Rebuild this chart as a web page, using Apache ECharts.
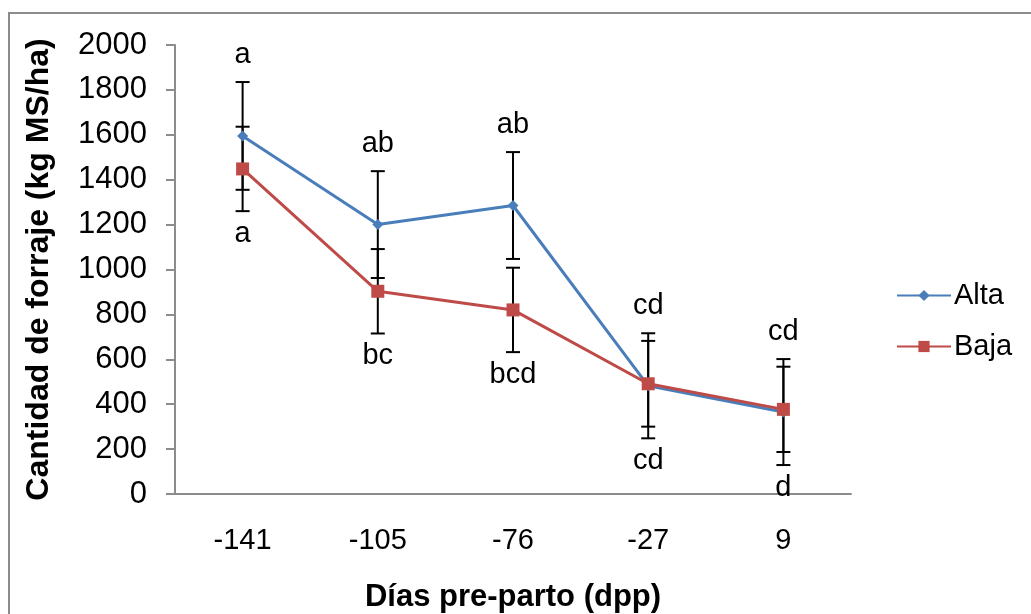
<!DOCTYPE html>
<html>
<head>
<meta charset="utf-8">
<script src="https://cdn.jsdelivr.net/npm/echarts@6/dist/echarts.min.js"></script>
<style>
  html, body { margin: 0; padding: 0; background: #fff; }
  #frame { position: absolute; left: 8px; top: 12px; width: 1030px; height: 610px;
           border-left: 2px solid #8c8c8c; border-top: 2px solid #8c8c8c; }
  #chart { position: absolute; left: 0; top: 0; width: 1031px; height: 614px; }
</style>
</head>
<body>
<div id="frame"></div>
<div id="chart"></div>
<script>
// Days relative to calving
const categories = ['-141', '-105', '-76', '-27', '9'];

// Forage mass (kg DM/ha) per stocking level
const alta = [1595, 1200, 1285, 482, 365];
const baja = [1448, 903, 820, 491, 377];

// Error bar half-widths
const altaErr = [240, 238, 238, 234, 236];
const bajaErr = [188, 188, 188, 191, 190];

// Significance letters: Alta above, Baja below
const lettersAlta = ['a', 'ab', 'ab', 'cd', 'cd'];
const lettersBaja = ['a', 'bc', 'bcd', 'cd', 'd'];

const yTicks = { min: 0, max: 2000, interval: 200 };

const FONT = '"Liberation Sans", Arial, sans-serif';
const FS = 29;
const BLUE = '#4a7ebb';
const RED = '#be4b48';

// [category index, low, high]
function errData(vals, errs) {
  return vals.map((v, i) => [i, v - errs[i], v + errs[i]]);
}

// [category index, highest bar end, lowest bar end, letter above, letter below]
const letterData = categories.map((c, i) => [
  i,
  Math.max(alta[i] + altaErr[i], baja[i] + bajaErr[i]),
  Math.min(alta[i] - altaErr[i], baja[i] - bajaErr[i]),
  lettersAlta[i],
  lettersBaja[i]
]);

function renderErr(params, api) {
  const x = api.value(0);
  const lo = api.coord([x, api.value(1)]);
  const hi = api.coord([x, api.value(2)]);
  const cap = 7;
  const style = { stroke: '#000', lineWidth: 2 };
  return {
    type: 'group',
    children: [
      { type: 'line', shape: { x1: hi[0], y1: hi[1], x2: lo[0], y2: lo[1] }, style },
      { type: 'line', shape: { x1: hi[0] - cap, y1: hi[1], x2: hi[0] + cap, y2: hi[1] }, style },
      { type: 'line', shape: { x1: lo[0] - cap, y1: lo[1], x2: lo[0] + cap, y2: lo[1] }, style }
    ]
  };
}

function renderLetters(params, api) {
  const x = api.value(0);
  const hi = api.coord([x, api.value(1)]);
  const lo = api.coord([x, api.value(2)]);
  const font = FS + 'px ' + FONT;
  return {
    type: 'group',
    children: [
      { type: 'text', style: { text: api.value(3), x: hi[0], y: hi[1] - 27,
          align: 'center', verticalAlign: 'middle', font, fill: '#000' } },
      { type: 'text', style: { text: api.value(4), x: lo[0], y: lo[1] + 23,
          align: 'center', verticalAlign: 'middle', font, fill: '#000' } }
    ]
  };
}

const chart = echarts.init(document.getElementById('chart'), null, { renderer: 'canvas' });

chart.setOption({
  animation: false,
  backgroundColor: 'transparent',
  grid: { left: 175, right: 180, top: 45, bottom: 120, outerBoundsMode: 'none', containLabel: false },
  legend: {
    orient: 'vertical',
    left: 891,
    top: 276,
    itemWidth: 54,
    itemHeight: 14,
    itemGap: 22,
    textStyle: { fontFamily: FONT, fontSize: FS, color: '#000', padding: [0, 0, 0, -2] },
    data: ['Alta', 'Baja']
  },
  xAxis: {
    type: 'category',
    data: categories,
    boundaryGap: true,
    axisLine: { lineStyle: { color: '#8c8c8c', width: 2 } },
    axisTick: { show: false },
    axisLabel: { fontFamily: FONT, fontSize: FS, color: '#000', margin: 32 },
    name: 'Días pre-parto (dpp)',
    nameLocation: 'middle',
    nameGap: 88,
    nameTextStyle: { fontFamily: FONT, fontSize: 31, fontWeight: 'bold', color: '#000' }
  },
  yAxis: {
    type: 'value',
    min: yTicks.min,
    max: yTicks.max,
    interval: yTicks.interval,
    splitLine: { show: false },
    axisLine: { show: true, lineStyle: { color: '#8c8c8c', width: 2 } },
    axisTick: { show: true, length: 9, lineStyle: { color: '#8c8c8c', width: 2 } },
    axisLabel: { fontFamily: FONT, fontSize: 31, color: '#000', margin: 28, formatter: v => String(v) },
    name: 'Cantidad de forraje (kg MS/ha)',
    nameLocation: 'middle',
    nameGap: 120,
    nameTextStyle: { fontFamily: FONT, fontSize: 32, fontWeight: 'bold', color: '#000' }
  },
  series: [
    {
      type: 'custom',
      name: 'errAlta',
      renderItem: renderErr,
      data: errData(alta, altaErr),
      z: 1,
      silent: true
    },
    {
      type: 'custom',
      name: 'errBaja',
      renderItem: renderErr,
      data: errData(baja, bajaErr),
      z: 1,
      silent: true
    },
    {
      type: 'custom',
      name: 'letters',
      renderItem: renderLetters,
      data: letterData,
      z: 1,
      silent: true
    },
    {
      name: 'Alta',
      type: 'line',
      data: alta,
      symbol: 'diamond',
      symbolSize: 11,
      itemStyle: { color: BLUE },
      lineStyle: { color: BLUE, width: 3 },
      z: 3
    },
    {
      name: 'Baja',
      type: 'line',
      data: baja,
      symbol: 'rect',
      symbolSize: 13,
      itemStyle: { color: RED },
      lineStyle: { color: RED, width: 3 },
      z: 4
    }
  ]
});
</script>
</body>
</html>
